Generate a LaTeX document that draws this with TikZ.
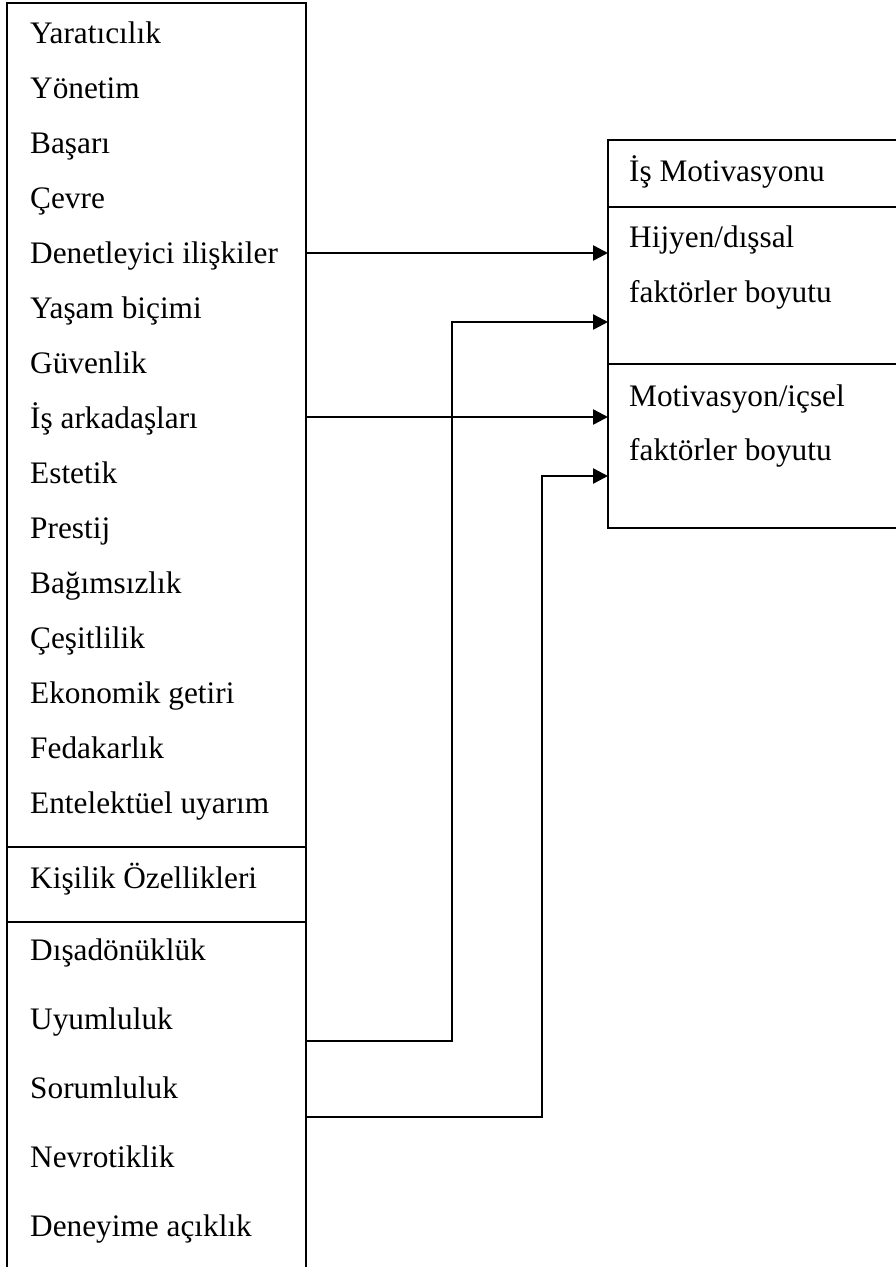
\documentclass[tikz,border=0pt]{standalone}
\usepackage{fontspec}
\setmainfont{Liberation Serif}
\usetikzlibrary{arrows.meta, positioning}

\begin{document}
\begin{tikzpicture}[
    x=1pt, y=1pt,
    font=\fontsize{31.3pt}{36pt}\selectfont,
    box/.style={draw=black, line width=2.5pt, outer sep=0pt, inner sep=0pt},
    item/.style={anchor=base west, inner sep=0pt},
    link/.style={-{Triangle[length=15pt, width=15pt]}, line width=2.5pt},
]
\useasboundingbox (0,0) rectangle (896,-1267);

% kutular
\node[box, anchor=north west, minimum width=299pt, minimum height=1290pt] (lbox) at (7,-3) {};
\node[box, anchor=north west, minimum width=300pt, minimum height=388pt] (rbox) at (608,-140) {};

\draw[box] (lbox.west |- 0,-847) -- (lbox.east |- 0,-847);
\draw[box] (lbox.west |- 0,-922) -- (lbox.east |- 0,-922);
\draw[box] (rbox.west |- 0,-207) -- (rbox.east |- 0,-207);
\draw[box] (rbox.west |- 0,-364) -- (rbox.east |- 0,-364);

% degerler
\node[item] (yarat) at (30,-43) {Yaratıcılık};
\node[item, below=55pt of yarat.base west, anchor=base west] (yonetim) {Yönetim};
\node[item, below=55pt of yonetim.base west, anchor=base west] (basari) {Başarı};
\node[item, below=55pt of basari.base west, anchor=base west] (cevre) {Çevre};
\node[item, below=55pt of cevre.base west, anchor=base west] (denet) {Denetleyici ilişkiler};
\node[item, below=55pt of denet.base west, anchor=base west] (yasam) {Yaşam biçimi};
\node[item, below=55pt of yasam.base west, anchor=base west] (guven) {Güvenlik};
\node[item, below=55pt of guven.base west, anchor=base west] (isark) {İş arkadaşları};
\node[item, below=55pt of isark.base west, anchor=base west] (estetik) {Estetik};
\node[item, below=55pt of estetik.base west, anchor=base west] (prestij) {Prestij};
\node[item, below=55pt of prestij.base west, anchor=base west] (bagim) {Bağımsızlık};
\node[item, below=55pt of bagim.base west, anchor=base west] (cesit) {Çeşitlilik};
\node[item, below=55pt of cesit.base west, anchor=base west] (ekonomi) {Ekonomik getiri};
\node[item, below=55pt of ekonomi.base west, anchor=base west] (fedak) {Fedakarlık};
\node[item, below=55pt of fedak.base west, anchor=base west] (entel) {Entelektüel uyarım};

% kisilik ozellikleri
\node[item] (kisilik) at (30,-888) {Kişilik Özellikleri};
\node[item] (disa) at (30,-960) {Dışadönüklük};
\node[item, below=69pt of disa.base west, anchor=base west] (uyum) {Uyumluluk};
\node[item, below=69pt of uyum.base west, anchor=base west] (sorum) {Sorumluluk};
\node[item, below=69pt of sorum.base west, anchor=base west] (nevro) {Nevrotiklik};
\node[item, below=69pt of nevro.base west, anchor=base west] (deney) {Deneyime açıklık};

% is motivasyonu
\node[item] (ismot) at (629,-181) {İş Motivasyonu};
\node[item] (hijyen) at (629,-247) {Hijyen/dışsal};
\node[item, below=55pt of hijyen.base west, anchor=base west] (hijyenb) {faktörler boyutu};
\node[item] (motiv) at (629,-406) {Motivasyon/içsel};
\node[item, below=54pt of motiv.base west, anchor=base west] (motivb) {faktörler boyutu};

% baglantilar
\coordinate (uyumcik) at (lbox.east |- 0,-1041);
\coordinate (sorumcik) at (lbox.east |- 0,-1117);
\coordinate (hijgiris) at (rbox.west |- 0,-322);
\coordinate (motgiris) at (rbox.west |- 0,-476);

\draw[link] (lbox.east |- 0,-253) -- (rbox.west |- 0,-253);
\draw[link] (lbox.east |- 0,-417) -- (rbox.west |- 0,-417);
\draw[link] (uyumcik) -| ([xshift=-156pt]hijgiris) -- (hijgiris);
\draw[link] (sorumcik) -| ([xshift=-66pt]motgiris) -- (motgiris);

\end{tikzpicture}
\end{document}
